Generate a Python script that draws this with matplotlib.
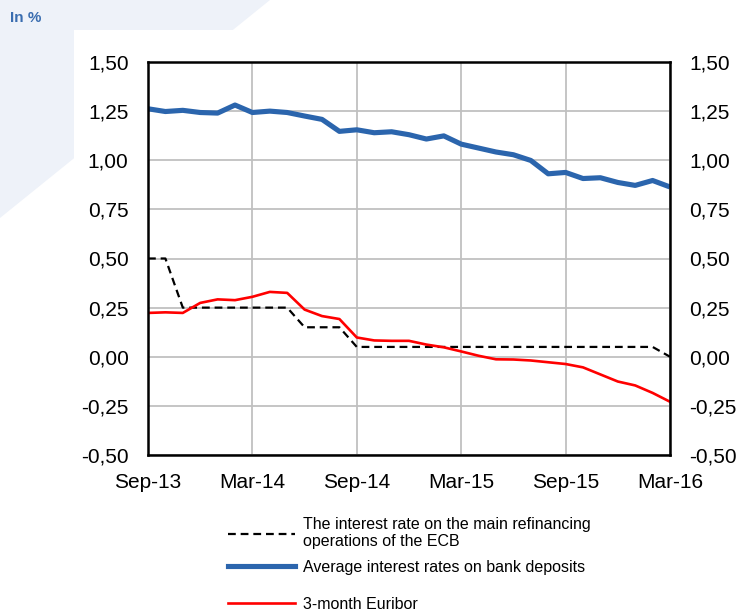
import matplotlib
matplotlib.use("Agg")
import matplotlib.pyplot as plt
from matplotlib.lines import Line2D
from matplotlib.patches import Polygon, Rectangle

plt.rcParams['font.family'] = ['Liberation Sans', 'DejaVu Sans']

months = ["Sep-13", "Oct-13", "Nov-13", "Dec-13", "Jan-14", "Feb-14", "Mar-14",
          "Apr-14", "May-14", "Jun-14", "Jul-14", "Aug-14", "Sep-14", "Oct-14",
          "Nov-14", "Dec-14", "Jan-15", "Feb-15", "Mar-15", "Apr-15", "May-15",
          "Jun-15", "Jul-15", "Aug-15", "Sep-15", "Oct-15", "Nov-15", "Dec-15",
          "Jan-16", "Feb-16", "Mar-16"]

ecb_mro = [0.50, 0.50, 0.25, 0.25, 0.25, 0.25, 0.25, 0.25, 0.25, 0.15, 0.15,
           0.15, 0.05, 0.05, 0.05, 0.05, 0.05, 0.05, 0.05, 0.05, 0.05, 0.05,
           0.05, 0.05, 0.05, 0.05, 0.05, 0.05, 0.05, 0.05, 0.00]

deposits = [1.262, 1.248, 1.254, 1.243, 1.240, 1.281, 1.243, 1.250, 1.243,
            1.225, 1.208, 1.147, 1.155, 1.140, 1.145, 1.130, 1.108, 1.124,
            1.082, 1.062, 1.042, 1.028, 0.999, 0.931, 0.938, 0.907, 0.911,
            0.887, 0.872, 0.897, 0.864]

euribor = [0.223, 0.226, 0.223, 0.274, 0.292, 0.288, 0.305, 0.330, 0.325,
           0.240, 0.207, 0.192, 0.098, 0.083, 0.081, 0.081, 0.062, 0.048,
           0.027, 0.005, -0.013, -0.014, -0.019, -0.028, -0.037, -0.054,
           -0.090, -0.126, -0.146, -0.184, -0.229]

xtick_labels = ["Sep-13", "Mar-14", "Sep-14", "Mar-15", "Sep-15", "Mar-16"]
ytick_values = [-0.50, -0.25, 0.00, 0.25, 0.50, 0.75, 1.00, 1.25, 1.50]
ytick_labels = ["-0,50", "-0,25", "0,00", "0,25", "0,50", "0,75", "1,00", "1,25", "1,50"]

label_ecb = "The interest rate on the main refinancing\noperations of the ECB"
label_dep = "Average interest rates on bank deposits"
label_eur = "3-month Euribor"

W, H = 740, 611
fig = plt.figure(figsize=(W / 100, H / 100), dpi=100)
fig.patch.set_facecolor("white")

def px(x, y):
    return (x / W, 1 - y / H)

bg = "#eef2f9"
fig.patches.append(Polygon([px(0, 0), px(270, 0), px(0, 218)], closed=True,
                           transform=fig.transFigure, facecolor=bg,
                           edgecolor="none", zorder=-3))
fig.patches.append(Rectangle(px(74, 611), (W - 74) / W, (611 - 30) / H,
                             transform=fig.transFigure, facecolor="white",
                             edgecolor="none", zorder=-2))

fig.text(10 / W, 1 - 18 / H, "In %", color="#3a6db0", fontsize=11,
         fontweight="bold", va="center", ha="left")

left, right, top, bottom = 148, 670, 62, 455
ax = fig.add_axes([left / W, 1 - bottom / H, (right - left) / W, (bottom - top) / H])
ax.set_facecolor("white")

x = list(range(len(months)))
ax.plot(x, ecb_mro, color="black", lw=1.6, linestyle=(0, (3.5, 2.2)), zorder=3)
ax.plot(x, deposits, color="#2b65ad", lw=3.7, zorder=4, solid_capstyle="butt")
ax.plot(x, euribor, color="#ff0000", lw=1.9, zorder=3)

ax.set_xlim(0, len(months) - 1)
ax.set_ylim(-0.5, 1.5)
ax.set_xticks([months.index(m) for m in xtick_labels])
ax.set_xticklabels(xtick_labels)
ax.set_yticks(ytick_values)
ax.set_yticklabels(ytick_labels)
ax.grid(True, color="#c0c0c0", lw=1.3, zorder=1)
ax.set_axisbelow(True)
ax.tick_params(axis="both", length=0, labelsize=15, colors="black")
ax.tick_params(axis="y", pad=14)
ax.tick_params(axis="x", pad=13)
for s in ax.spines.values():
    s.set_color("black")
    s.set_linewidth(1.8)
    s.set_zorder(5)

ax2 = ax.twinx()
ax2.set_ylim(ax.get_ylim())
ax2.set_yticks(ytick_values)
ax2.set_yticklabels(ytick_labels)
ax2.tick_params(axis="y", length=0, labelsize=15, pad=14)
for s in ax2.spines.values():
    s.set_visible(False)

h1 = Line2D([], [], color="black", lw=1.6, linestyle=(0, (3.5, 2.2)))
h2 = Line2D([], [], color="#2b65ad", lw=3.7)
h3 = Line2D([], [], color="#ff0000", lw=1.9)
leg_kw = dict(frameon=False, fontsize=11.5, handlelength=4.2, handletextpad=0.5,
              borderpad=0, borderaxespad=0, labelspacing=0.65, loc="upper left")
fig.legend([h1, h2], [label_ecb, label_dep], bbox_to_anchor=px(228, 517), **leg_kw)
fig.legend([h3], [label_eur], bbox_to_anchor=px(228, 597), **leg_kw)

fig.savefig("out.png", dpi=100, facecolor=fig.get_facecolor())
